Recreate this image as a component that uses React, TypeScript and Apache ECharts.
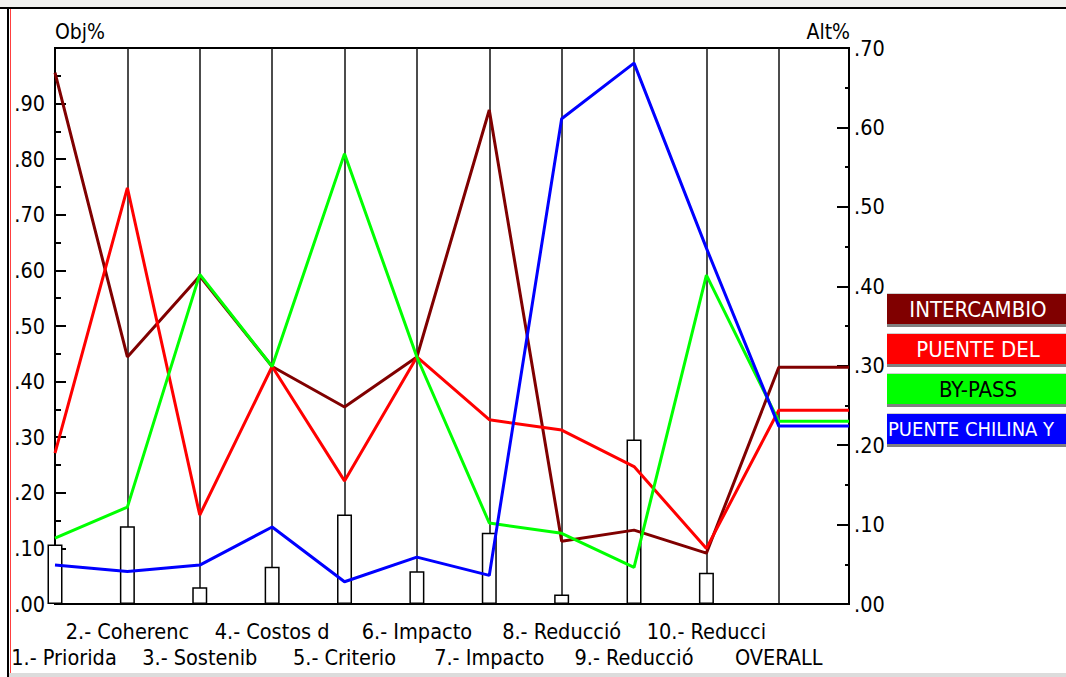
import React, { useEffect, useRef } from "react";
import * as echarts from "echarts";

// ---- data ----
const categories = [
  "1.- Priorida",
  "2.- Coherenc",
  "3.- Sostenib",
  "4.- Costos d",
  "5.- Criterio",
  "6.- Impacto",
  "7.- Impacto",
  "8.- Reducció",
  "9.- Reducció",
  "10.- Reducci",
  "OVERALL",
];
// criteria weights (Obj%, left axis)
const criteriaWeights = [0.107, 0.14, 0.03, 0.067, 0.161, 0.059, 0.128, 0.017, 0.296, 0.056];
// alternatives (Alt%, right axis) — last value is OVERALL
const intercambio = [0.669, 0.311, 0.413, 0.299, 0.248, 0.311, 0.622, 0.079, 0.093, 0.064, 0.298];
const puenteDel = [0.19, 0.524, 0.112, 0.299, 0.155, 0.311, 0.232, 0.219, 0.173, 0.07, 0.244];
const byPass = [0.083, 0.122, 0.415, 0.299, 0.567, 0.311, 0.102, 0.089, 0.046, 0.414, 0.23];
const puenteChilina = [0.049, 0.041, 0.049, 0.097, 0.028, 0.059, 0.036, 0.611, 0.681, 0.448, 0.224];
const altNames = ["INTERCAMBIO", "PUENTE DEL", "BY-PASS", "PUENTE CHILINA Y"];
const altSeries = [intercambio, puenteDel, byPass, puenteChilina];

// ---- styles ----
const altColors = ["#800000", "#ff0000", "#00ff00", "#0000ff"];
const altTextColors = ["#ffffff", "#ffffff", "#000000", "#ffffff"];
const FONT = "'Liberation Sans Narrow', 'Arial Narrow', 'DejaVu Sans Condensed', sans-serif";
const X_MAX = 10.97;

const fmtTick = (v: number) => "." + String(Math.round(v * 100) % 100).padStart(2, "0");

// label formatter for one of the two label rows (row 0: odd indices, row 1: even indices)
const rowFormatter = (row: number) => (v: number) => {
  const i = Math.round(v);
  if (Math.abs(v - i) > 1e-6 || i >= categories.length) return "";
  if (i % 2 !== (row === 0 ? 1 : 0)) return "";
  return i === 0 ? `{first|${categories[i]}}` : categories[i];
};

export default function App() {
  const ref = useRef<HTMLDivElement>(null);
  useEffect(() => {
    if (!ref.current) return;
    const chart = echarts.init(ref.current, undefined, { renderer: "svg" });

    const legendGraphics: any[] = [];
    altNames.forEach((name, i) => {
      const top = 294 + 40 * i;
      legendGraphics.push(
        { type: "rect", shape: { x: 887, y: top - 1, width: 190, height: 1 }, style: { fill: "#d0d0d0" }, z: 10 },
        { type: "rect", shape: { x: 887, y: top, width: 190, height: 30 }, style: { fill: altColors[i] }, z: 10 },
        { type: "rect", shape: { x: 887, y: top + 30, width: 190, height: 3 }, style: { fill: "#808080" }, z: 10 },
        {
          type: "text",
          x: i === 3 ? 888 : 978,
          y: top + 15,
          z: 11,
          style: {
            text: name,
            fill: altTextColors[i],
            font: `${i === 3 ? 20 : 22}px ${FONT}`,
            align: i === 3 ? "left" : "center",
            verticalAlign: "middle",
          },
        }
      );
    });

    const labelBase = {
      color: "#000",
      fontSize: 21.5,
      fontFamily: FONT,
      verticalAlign: "middle",
      showMinLabel: true,
      showMaxLabel: false,
      hideOverlap: false,
      rich: {
        first: { fontSize: 21.5, fontFamily: FONT, color: "#000", padding: [0, 0, 0, 18] },
      },
    };

    const option: any = {
      animation: false,
      backgroundColor: "#ffffff",
      textStyle: { fontFamily: FONT },
      grid: {
        left: 55,
        right: 217,
        top: 48,
        bottom: 73,
        show: true,
        borderColor: "#000",
        borderWidth: 2,
        backgroundColor: "transparent",
      },
      xAxis: [
        {
          type: "value",
          position: "bottom",
          min: 0,
          max: X_MAX,
          interval: 1,
          axisLine: { show: true, onZero: false, lineStyle: { color: "#000", width: 2 } },
          axisTick: { show: false },
          splitLine: { show: true, lineStyle: { color: "#111", width: 1.5 } },
          axisLabel: { ...labelBase, margin: 27, formatter: rowFormatter(0) },
        },
        {
          type: "value",
          position: "bottom",
          min: 0,
          max: X_MAX,
          interval: 1,
          axisLine: { show: false, onZero: false },
          axisTick: { show: false },
          splitLine: { show: false },
          axisLabel: { ...labelBase, margin: 53.5, formatter: rowFormatter(1) },
        },
      ],
      yAxis: [
        {
          type: "value",
          position: "left",
          min: 0,
          max: 1,
          interval: 0.1,
          name: "Obj%",
          nameLocation: "end",
          nameGap: 16,
          nameTextStyle: { color: "#000", fontSize: 21, fontFamily: FONT, align: "left", verticalAlign: "middle" },
          axisLine: { show: true, onZero: false, lineStyle: { color: "#000", width: 2 } },
          axisTick: { show: true, inside: true, length: 11, lineStyle: { color: "#000", width: 2 } },
          minorTick: { show: true, splitNumber: 2, length: 6, lineStyle: { color: "#000", width: 2 } },
          splitLine: { show: false },
          axisLabel: {
            color: "#000",
            fontSize: 21.5,
            fontFamily: FONT,
            margin: 10,
            formatter: (v: number) => (v >= 0.999 ? "" : fmtTick(v)),
          },
        },
        {
          type: "value",
          position: "right",
          min: 0,
          max: 0.7,
          interval: 0.1,
          axisLine: { show: true, onZero: false, lineStyle: { color: "#000", width: 2 } },
          axisTick: { show: true, inside: true, length: 12, lineStyle: { color: "#000", width: 2 } },
          minorTick: { show: true, splitNumber: 2, length: 4, lineStyle: { color: "#000", width: 2 } },
          splitLine: { show: false },
          axisLabel: {
            color: "#000",
            fontSize: 21.5,
            fontFamily: FONT,
            margin: 5,
            formatter: (v: number) => fmtTick(v),
          },
        },
      ],
      series: [
        {
          type: "bar",
          xAxisIndex: 0,
          yAxisIndex: 0,
          barWidth: 15,
          z: 2,
          data: criteriaWeights.map((v, i) => [i, v]),
          itemStyle: { color: "#ffffff", borderColor: "#000", borderWidth: 1.5 },
          emphasis: { disabled: true },
        },
        ...altSeries.map((vals, k) => ({
          type: "line",
          name: altNames[k],
          xAxisIndex: 0,
          yAxisIndex: 1,
          z: 3 + k,
          showSymbol: false,
          symbol: "none",
          data: vals.map((v, i) => [i, v]).concat([[X_MAX, vals[vals.length - 1]]]),
          lineStyle: { color: altColors[k], width: 3 },
          itemStyle: { color: altColors[k] },
          emphasis: { disabled: true },
        })),
      ],
      graphic: [
        { type: "rect", shape: { x: 0, y: 0, width: 1066, height: 7 }, style: { fill: "#f1f1ef" }, z: 0 },
        { type: "line", shape: { x1: 0, y1: 8, x2: 1066, y2: 8 }, style: { stroke: "#000", lineWidth: 2 }, z: 1 },
        { type: "line", shape: { x1: 8, y1: 8, x2: 8, y2: 677 }, style: { stroke: "#000", lineWidth: 2 }, z: 1 },
        { type: "line", shape: { x1: 10.5, y1: 9, x2: 10.5, y2: 677 }, style: { stroke: "#ff4040", lineWidth: 1 }, z: 1 },
        { type: "rect", shape: { x: 9, y: 673, width: 1057, height: 4 }, style: { fill: "#dcdcdc" }, z: 1 },
        {
          type: "text",
          x: 850,
          y: 32,
          z: 5,
          style: { text: "Alt%", fill: "#000", font: `21px ${FONT}`, align: "right", verticalAlign: "middle" },
        },
        ...legendGraphics,
      ],
    };
    chart.setOption(option);
    return () => chart.dispose();
  }, []);

  return (
    <div
      ref={ref}
      style={{ position: "fixed", left: 0, top: 0, width: 1066, height: 677, background: "#fff" }}
    />
  );
}
